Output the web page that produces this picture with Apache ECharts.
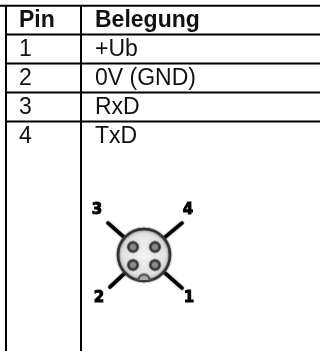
<!DOCTYPE html>
<html><head><meta charset="utf-8"><style>html,body{margin:0;padding:0;background:#fff}#c{width:320px;height:351px}</style>
<script src="https://cdn.jsdelivr.net/npm/echarts@6/dist/echarts.min.js"></script></head>
<body><div id="c"></div><script>
const headers = ['Pin', 'Belegung'];
const pins = ['1', '2', '3', '4'];
const assignments = ['+Ub', '0V (GND)', 'RxD', 'TxD'];
const connectorPins = ['1', '2', '3', '4'];

const chart = echarts.init(document.getElementById('c'), null, {renderer: 'canvas'});
const F = 'Liberation Sans, Arial, sans-serif';
const g = [];
const line = (x1, y1, x2, y2, w) => g.push({type: 'line', shape: {x1, y1, x2, y2}, style: {stroke: '#000', lineWidth: w || 2}});
const text = (x, y, t, fw) => g.push({type: 'text', x, y, style: {text: t, font: (fw || 'normal') + ' 23px ' + F, fill: '#111', textVerticalAlign: 'middle', verticalAlign: 'middle'}});

line(0, 5.7, 320, 5.7);
[34.5, 63.5, 92.5, 121.5].forEach(y => line(6, y, 320, y));
line(6, 5, 6, 351); line(81, 5, 81, 351);
text(19, 20.5, headers[0], 'bold'); text(95, 20.5, headers[1], 'bold');
pins.forEach((p, i) => { text(19, 50 + 29 * i, p); text(95, 50 + 29 * i, assignments[i]); });

// connector
const cx = 144, cy = 255;
[[108, 223, 125, 238], [182, 223, 164, 238], [110, 287, 125, 273], [182, 288, 165, 273]].forEach(s => g.push({type: 'line', shape: {x1: s[0], y1: s[1], x2: s[2], y2: s[3]}, style: {stroke: '#000', lineWidth: 3.5, lineCap: 'round', shadowBlur: 1.5, shadowColor: '#000'}}));
g.push({type: 'circle', shape: {cx, cy, r: 26}, style: {
  fill: {type: 'radial', x: 0.5, y: 0.5, r: 0.5, colorStops: [{offset: 0, color: '#f2f2f2'}, {offset: 0.75, color: '#e2e2e2'}, {offset: 1, color: '#bdbdbd'}]},
  stroke: '#333', lineWidth: 2.5, shadowBlur: 2, shadowColor: '#444'}});
[[-11, -8], [11, -8], [-11, 10], [11, 10]].forEach(d => g.push({type: 'circle', shape: {cx: cx + d[0], cy: cy + d[1], r: 4.5}, style: {fill: '#8c8c8c', stroke: '#3c3c3c', lineWidth: 2.5, shadowBlur: 2, shadowColor: '#666'}}));
g.push({type: 'arc', shape: {cx, cy: cy + 25, r: 5.5, startAngle: Math.PI, endAngle: 0}, style: {fill: '#aaa', stroke: '#555', lineWidth: 2, shadowBlur: 1.5, shadowColor: '#777'}});
[[97, 210, 2], [188, 210, 3], [99, 298, 1], [189, 298, 0]].forEach(l => g.push({type: 'text', x: l[0], y: l[1], style: {text: connectorPins[l[2]], font: 'bold 15px DejaVu Sans, sans-serif', fill: '#000', stroke: '#000', lineWidth: 1, align: 'center', verticalAlign: 'middle', textAlign: 'center', textVerticalAlign: 'middle'}}));

chart.setOption({animation: false, backgroundColor: '#fff', graphic: {elements: g}});
</script></body></html>
